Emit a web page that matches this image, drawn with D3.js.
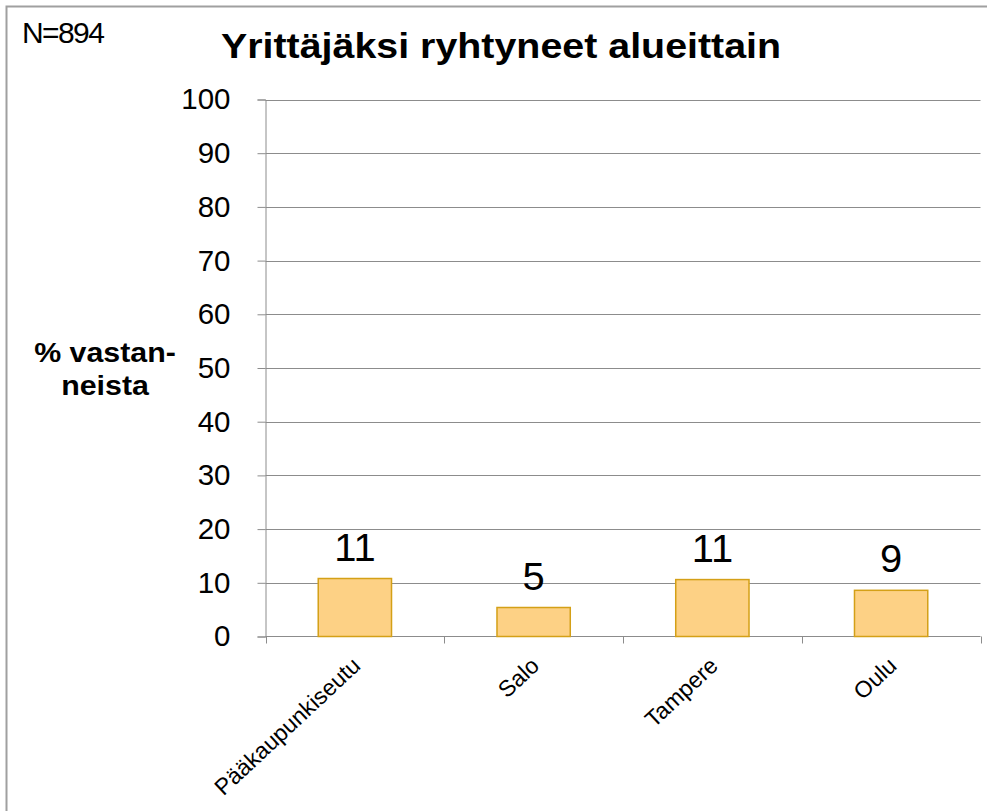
<!DOCTYPE html>
<html><head><meta charset="utf-8">
<script src="https://cdn.jsdelivr.net/npm/d3@7"></script>
<style>
body{margin:0;background:#fff;}
text{font-family:"Liberation Sans",Arial,sans-serif;}
</style></head>
<body><svg id="c" width="987" height="811"></svg>
<script>
const categories = ["Pääkaupunkiseutu", "Salo", "Tampere", "Oulu"];
const values = [10.8, 5.4, 10.6, 8.6];
const valueLabels = ["11", "5", "11", "9"];
const yTicks = [0, 10, 20, 30, 40, 50, 60, 70, 80, 90, 100];
const title = "Yrittäjäksi ryhtyneet alueittain";
const nLabel = "N=894";
const yLabelLines = ["% vastan-", "neista"];

const SX = 1.125; // horizontal stretch of the original text
const svg = d3.select("#c");
// frame
svg.append("path").attr("d","M6.5,811 V6.5 H987").attr("fill","none").attr("stroke","#a0a0a0").attr("stroke-width",2);

const pLeft = 265.5, pRight = 980.5, pTop = 99.5, pBottom = 636.5;
const x = d3.scaleBand().domain(categories).range([pLeft, pRight]).paddingInner(0.59).paddingOuter(0.295);
const y = d3.scaleLinear().domain([0, 100]).range([pBottom, pTop]);

// gridlines
svg.append("g").selectAll("line").data(yTicks.filter(d=>d>0)).join("line")
  .attr("x1", pLeft).attr("x2", pRight).attr("y1", d=>Math.round(y(d))+0.5).attr("y2", d=>Math.round(y(d))+0.5)
  .attr("stroke","#8c8c8c").attr("stroke-width",1);

// y axis
const ya = svg.append("g").attr("transform",`translate(${pLeft},0)`)
  .call(d3.axisLeft(y).tickValues(yTicks).tickSize(8).tickPadding(27).tickFormat(d3.format("d")));
ya.select(".domain").attr("stroke","#8c8c8c");
ya.selectAll(".tick line").attr("stroke","#8c8c8c");
ya.selectAll(".tick text").attr("font-size",29.5).attr("fill","#000")
  .attr("font-family","Liberation Sans, Arial, sans-serif");

// x axis line and ticks at boundaries
const bounds = d3.range(categories.length+1).map(i => pLeft + i*(pRight-pLeft)/categories.length);
svg.append("line").attr("x1",pLeft).attr("x2",pRight).attr("y1",pBottom).attr("y2",pBottom).attr("stroke","#8c8c8c");
svg.append("g").selectAll("line").data(bounds).join("line")
  .attr("x1",d=>Math.round(d)+0.5).attr("x2",d=>Math.round(d)+0.5).attr("y1",pBottom).attr("y2",pBottom+7).attr("stroke","#8c8c8c");

// bars
svg.append("g").selectAll("rect").data(values).join("rect")
  .attr("x",(d,i)=>x(categories[i])).attr("width",x.bandwidth())
  .attr("y",d=>y(d)).attr("height",d=>y(0)-y(d))
  .attr("fill","#fdd185").attr("stroke","#d4a017").attr("stroke-width",1.5);

// value labels
svg.append("g").selectAll("text").data(values).join("text")
  .attr("transform",(d,i)=>`translate(${x(categories[i])+x.bandwidth()/2},${y(d)-18}) scale(1.05,1)`)
  .attr("text-anchor","middle").attr("font-size",38).attr("fill","#000")
  .text((d,i)=>valueLabels[i]);

// category labels
svg.append("g").selectAll("text").data(categories).join("text")
  .attr("transform",(d)=>`translate(${x(d)+x.bandwidth()/2+7},${pBottom+31}) rotate(-43)`)
  .attr("text-anchor","end").attr("font-size",23).attr("fill","#000").text(d=>d);

// title
svg.append("text").attr("transform",`translate(501,58) scale(${SX},1)`).attr("text-anchor","middle")
  .attr("font-size",35).attr("font-weight","bold").attr("fill","#000").text(title);

// N label
svg.append("text").attr("x",22).attr("y",43).attr("font-size",30).attr("letter-spacing",-1.6).attr("fill","#000").text(nLabel);

// y label
svg.append("g").selectAll("text").data(yLabelLines).join("text")
  .attr("transform",(d,i)=>`translate(105,${362+i*33}) scale(${SX},1)`).attr("text-anchor","middle")
  .attr("font-size",27).attr("font-weight","bold").attr("fill","#000").text(d=>d);
</script></body></html>
